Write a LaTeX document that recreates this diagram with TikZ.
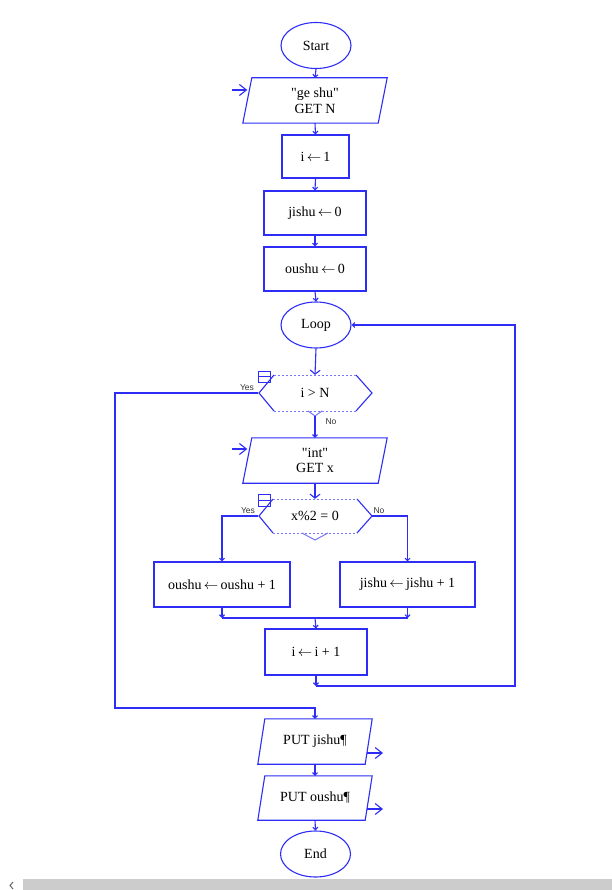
\documentclass[tikz,border=0pt]{standalone}
\usepackage{fontspec}
\setmainfont{Liberation Serif}[Ligatures=TeXOff]
\newfontfamily\lblfont{Liberation Sans}
\usetikzlibrary{shapes.geometric,arrows.meta,calc}
\definecolor{fc}{RGB}{45,45,245}
\definecolor{fcl}{RGB}{120,120,250}
\definecolor{barg}{RGB}{204,204,204}
\newcommand\iobox[2]{\draw[cline] ([xshift=#2]#1.north west) -- ([xshift=#2]#1.north east) -- ([xshift=-#2]#1.south east) -- ([xshift=-#2]#1.south west) -- cycle;}
\newcommand\larr{\,$\leftarrow$\,}
\begin{document}
\begin{tikzpicture}[x=1pt,y=-1pt,
  cline/.style={draw=fc,line width=1.1pt},
  txt/.style={font=\fontsize{14}{15.5}\selectfont, align=center, inner sep=0pt, text=black},
  term/.style={txt, ellipse, draw=fc, line width=1.1pt, minimum width=70pt, minimum height=46pt},
  proc/.style={txt, rectangle, draw=fc, line width=1.1pt},
  io/.style={txt, rectangle, minimum height=45pt},
  dec/.style={txt, rectangle},
  lbl/.style={font=\lblfont\fontsize{8.5}{9}\selectfont, inner sep=0pt, text=black!80},
  arr/.style={cline, -{Straight Barb[length=2.5pt,width=5pt]}},
  arrd/.style={cline, -{Straight Barb[length=4pt,width=10pt]}},
  ioarr/.style={cline, -{Straight Barb[length=7pt,width=11pt]}},
  dedge/.style={draw=fcl, line width=1pt, dash pattern=on 2pt off 2pt},
  vedge/.style={draw=fcl, line width=1pt},
  icon/.style={draw=fc, line width=1pt}
]
\useasboundingbox (0,0) rectangle (612,890);
\fill[white] (0,0) rectangle (612,890);
\fill[barg] (23,879) rectangle (612,890);
\draw[black!60, line width=1pt] (13,882) -- (10,885.5) -- (13,889);

% nodes
\node[term] (start) at (316,45.5) {Start};
\node[io, minimum width=135pt] (getn) at (315,100.5) {"ge shu"\\GET N};
\node[proc, minimum width=67pt, minimum height=43pt] (b1) at (315.5,156.5) {i\larr1};
\node[proc, minimum width=102pt, minimum height=44pt] (b2) at (315,213) {jishu\larr0};
\node[proc, minimum width=102pt, minimum height=44pt] (b3) at (315,269) {oushu\larr0};
\node[term] (loop) at (316,325) {Loop};
\node[dec, minimum width=113pt, minimum height=36pt] (d1) at (315,393) {i > N};
\node[io, minimum width=135pt] (getx) at (315,460.5) {"int"\\GET x};
\node[dec, minimum width=113pt, minimum height=34pt] (d2) at (315,516) {x\%2 = 0};
\node[proc, minimum width=136pt, minimum height=45pt] (b4) at (222,584.5) {oushu\larr oushu + 1};
\node[proc, minimum width=135pt, minimum height=45pt] (b5) at (407.5,584.5) {jishu\larr jishu + 1};
\node[proc, minimum width=102pt, minimum height=46pt] (b6) at (316,652) {i\larr i + 1};
\node[io, minimum width=107pt] (pj) at (315,741.5) {PUT jishu¶};
\node[io, minimum width=107pt, minimum height=44pt] (po) at (315,798) {PUT oushu¶};
\node[term] (end) at (315.5,854) {End};

% parallelograms
\iobox{getn}{4.5pt}
\iobox{getx}{4.5pt}
\iobox{pj}{3.5pt}
\iobox{po}{3.5pt}

% decision 1 outline
\begin{scope}[shift={(d1.center)}]
  \draw[cline] (-41,-18) -- (-56,0) -- (-41,18);
  \draw[cline] (41,-18) -- (57,0) -- (41,18);
  \draw[dedge] (-41,-18) -- (41,-18);
  \draw[dedge] (-41,18) -- (41,18);
  \draw[vedge] (-7,18) -- (0,23) -- (7,18);
  \draw[icon] (-57,-22) rectangle (-45,-11);
  \draw[icon] (-57,-16.5) -- (-45,-16.5);
\end{scope}
% decision 2 outline
\begin{scope}[shift={(d2.center)}]
  \draw[cline] (-42,-17) -- (-56,0) -- (-42,17);
  \draw[cline] (42,-17) -- (57,0) -- (42,17);
  \draw[dedge] (-42,-17) -- (42,-17);
  \draw[dedge] (-42,17) -- (42,17);
  \draw[vedge] (-13,17) -- (0,24) -- (13,17);
  \draw[icon] (-57,-22) rectangle (-45,-10);
  \draw[icon] (-57,-16) -- (-45,-16);
\end{scope}

% labels
\node[lbl] (y1) at (247,388) {Yes};
\node[lbl] (n1) at (331,422) {No};
\node[lbl] (y2) at (248,511) {Yes};
\node[lbl] (n2) at (379,511) {No};

% coordinates
\coordinate (d1b) at ($(d1.south)+(0,5)$);
\coordinate (ya) at (115,393);
\coordinate (yb) at (115,708);
\coordinate (mrg) at (315,618);
\coordinate (lb1) at (515,686);
\coordinate (in1) at (232,90);
\coordinate (in2) at (232,449);
\coordinate (o1) at (383,753);
\coordinate (o2) at (383,809);

% connectors
\draw[arr] (start.south) -- (getn.north);
\draw[arr] (getn.south) -- (b1.north);
\draw[arr] (b1.south) -- (b2.north);
\draw[arr] (b2.south) -- (b3.north);
\draw[arr] (b3.south) -- (loop.north);
\draw[arrd] (loop.south) -- (d1.north);
\draw[arr] (d1b) -- (getx.north);
\draw[arrd] (getx.south) -- (d2.north);
\draw[arr] (d2.west) -| (b4.north);
\draw[arr] (d2.east) -| (b5.north);
\draw[arr] (b4.south) -- (b4.south |- mrg);
\draw[arr] (b5.south) -- (b5.south |- mrg);
\draw[cline] (b4.south |- mrg) -- (b5.south |- mrg);
\draw[arr] (mrg) -- (b6.north);
\draw[arr] (b6.south) -- (b6.south |- lb1);
\draw[arr] (b6.south |- lb1) -- (lb1) |- (loop.east);
\draw[arr] (d1.west) -- (ya) -- (yb) -| (pj.north);
\draw[arr] (pj.south) -- (po.north);
\draw[arr] (po.south) -- (end.north);

% input / output arrows
\draw[ioarr] (in1) -- (in1 -| getn.west);
\draw[ioarr] (in2) -- (in2 -| getx.west);
\draw[ioarr, shorten <=-2pt] (o1 -| pj.east) -- (o1);
\draw[ioarr, shorten <=-2pt] (o2 -| po.east) -- (o2);
\end{tikzpicture}
\end{document}
